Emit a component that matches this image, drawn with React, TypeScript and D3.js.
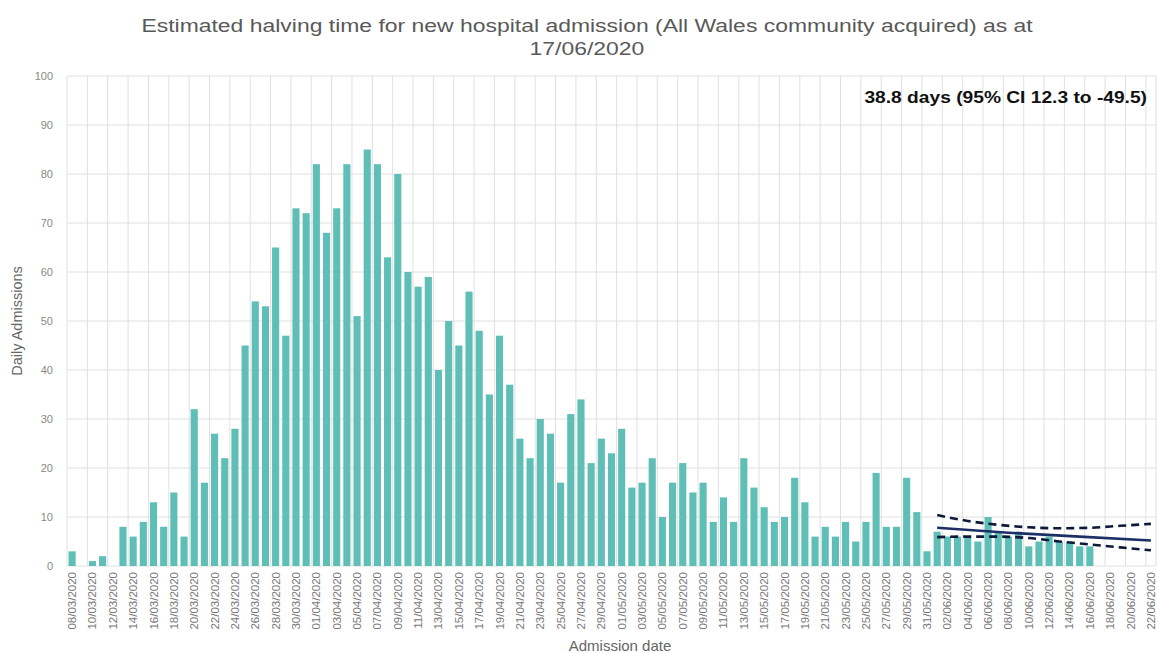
import React from "react";
import * as d3 from "d3";

const startDate = new Date(2020, 2, 8);
const endDate = new Date(2020, 5, 23);
const dates: Date[] = d3.timeDay.range(startDate, endDate);

const admissionsMarch = [3, 0, 1, 2, 0, 8, 6, 9, 13, 8, 15, 6, 32, 17, 27, 22, 28, 45, 54, 53, 65, 47, 73, 72];
const admissionsApril = [82, 68, 73, 82, 51, 85, 82, 63, 80, 60, 57, 59, 40, 50, 45, 56, 48, 35, 47, 37, 26, 22, 30, 27, 17, 31, 34, 21, 26, 23];
const admissionsMay = [28, 16, 17, 22, 10, 17, 21, 15, 17, 9, 14, 9, 22, 16, 12, 9, 10, 18, 13, 6, 8, 6, 9, 5, 9, 19, 8, 8, 18, 11, 3];
const admissionsJune = [7, 6, 6, 6, 5, 10, 7, 6, 7, 4, 5, 6, 5, 5, 4, 4];
const admissions = [...admissionsMarch, ...admissionsApril, ...admissionsMay, ...admissionsJune];

const fitDates = ["01/06/2020", "08/06/2020", "15/06/2020", "22/06/2020"];
const fitValues = [7.8, 6.8, 6.0, 5.2];
const ciDates = ["01/06/2020", "04/06/2020", "07/06/2020", "10/06/2020", "13/06/2020", "16/06/2020", "19/06/2020", "22/06/2020"];
const ciUpper = [10.4, 9.2, 8.4, 7.9, 7.7, 7.8, 8.2, 8.6];
const ciLower = [5.9, 6.0, 6.0, 5.7, 5.0, 4.4, 3.8, 3.2];

const yTicks = [0, 10, 20, 30, 40, 50, 60, 70, 80, 90, 100];

const title1 = "Estimated halving time for new hospital admission (All Wales community acquired) as at";
const title2 = "17/06/2020";
const annotation = "38.8 days (95% CI 12.3 to -49.5)";

const fmt = d3.timeFormat("%d/%m/%Y");
const labels = dates.map(fmt);

export default function App() {
  const W = 1157;
  const H = 653;
  const left = 67;
  const right = 1156;
  const top = 76;
  const bottom = 566;

  const x = d3.scaleBand<string>().domain(labels).range([left, right]).paddingInner(0.3).paddingOuter(0.15);
  const y = d3.scaleLinear().domain([0, 100]).range([bottom, top]);
  const step = x.step();
  const cx = (d: string) => (x(d) as number) + x.bandwidth() / 2;

  const line = d3
    .line<[string, number]>()
    .x((d) => cx(d[0]))
    .y((d) => y(d[1]));
  const curve = d3
    .line<[string, number]>()
    .x((d) => cx(d[0]))
    .y((d) => y(d[1]))
    .curve(d3.curveMonotoneX);

  const tickLabels = labels.filter((_, i) => i % 2 === 0);
  const font = "'Liberation Sans', Arial, sans-serif";

  return (
    <svg width={W} height={H} style={{ position: "absolute", left: 0, top: 0, background: "#fff" }} fontFamily={font}>
      <rect x={0} y={0} width={W} height={H} fill="#fff" />
      {yTicks.map((t) => (
        <line key={"h" + t} x1={left} x2={right} y1={y(t)} y2={y(t)} stroke="#e0e0e0" strokeWidth={1} />
      ))}
      {tickLabels.map((d) => (
        <line key={"v" + d} x1={cx(d) - step / 2} x2={cx(d) - step / 2} y1={top} y2={bottom} stroke="#e0e0e0" strokeWidth={1} />
      ))}
      <line x1={right} x2={right} y1={top} y2={bottom} stroke="#e0e0e0" />
      {admissions.map((v, i) => (
        <rect key={"b" + i} x={x(labels[i])} y={y(v)} width={x.bandwidth()} height={bottom - y(v)} fill="#5fbfb6" />
      ))}
      <path d={curve(ciDates.map((d, i) => [d, ciUpper[i]] as [string, number])) || ""} fill="none" stroke="#0f1a3a" strokeWidth={2.6} strokeDasharray="8,5" />
      <path d={curve(ciDates.map((d, i) => [d, ciLower[i]] as [string, number])) || ""} fill="none" stroke="#0f1a3a" strokeWidth={2.6} strokeDasharray="8,5" />
      <path d={line(fitDates.map((d, i) => [d, fitValues[i]] as [string, number])) || ""} fill="none" stroke="#1c2f66" strokeWidth={2.6} />
      {yTicks.map((t) => (
        <text key={"yt" + t} x={53} y={y(t) + 4} textAnchor="end" fontSize={11} fill="#888">
          {t}
        </text>
      ))}
      {tickLabels.map((d) => (
        <text key={"xt" + d} transform={`translate(${cx(d) + 4},${572}) rotate(-90)`} textAnchor="end" fontSize={11.5} fill="#777">
          {d}
        </text>
      ))}
      <text transform={`translate(22,${(top + bottom) / 2}) rotate(-90)`} textAnchor="middle" fontSize={14.5} fill="#666">
        Daily Admissions
      </text>
      <text x={620} y={651} textAnchor="middle" fontSize={15} fill="#666">
        Admission date
      </text>
      <g transform="translate(587,0) scale(1.24,1)">
        <text x={0} y={32} textAnchor="middle" fontSize={18.5} fill="#595959">
          {title1}
        </text>
        <text x={0} y={55} textAnchor="middle" fontSize={18.5} fill="#595959">
          {title2}
        </text>
      </g>
      <g transform="translate(1147,0) scale(1.2,1)">
        <text x={0} y={103} textAnchor="end" fontSize={16} fontWeight="bold" fill="#111">
          {annotation}
        </text>
      </g>
    </svg>
  );
}
